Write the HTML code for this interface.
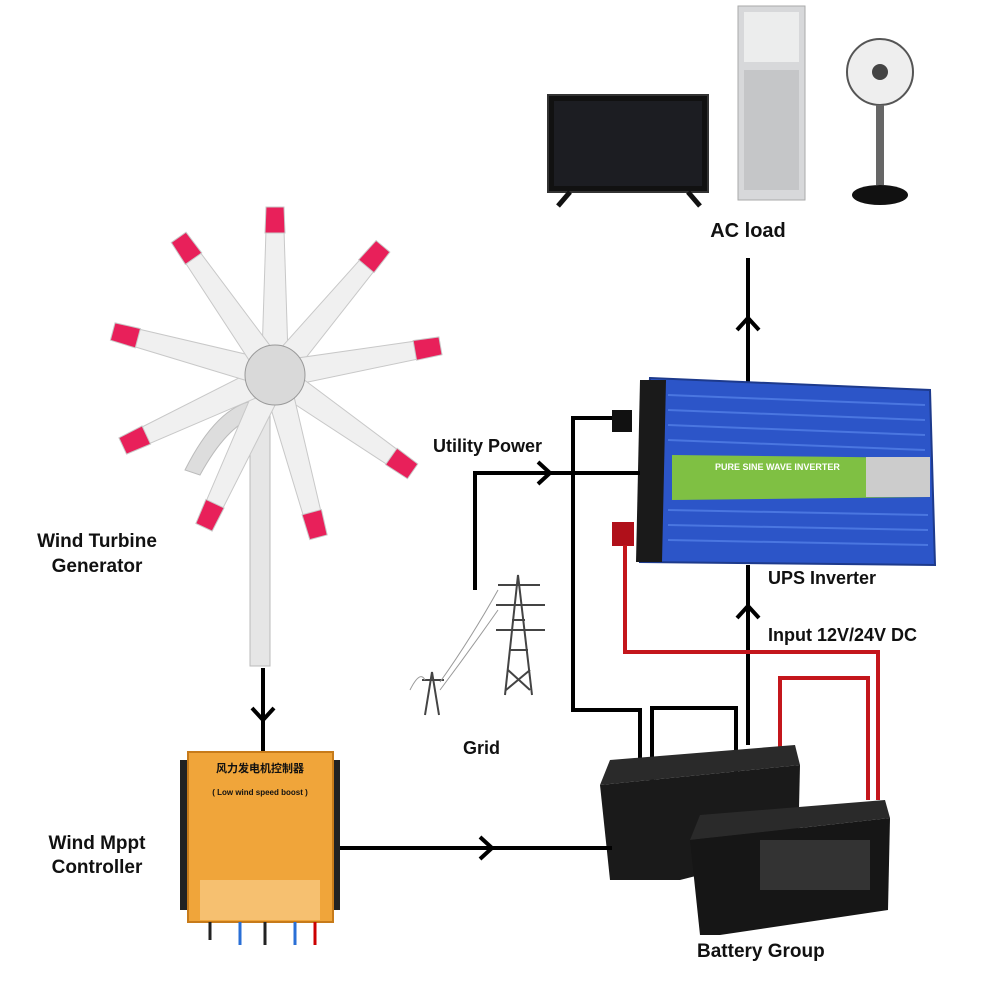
<!DOCTYPE html>
<html><head><meta charset="utf-8"><style>
html,body{margin:0;padding:0;background:#fff;}
svg{display:block}
text{font-family:"Liberation Sans","Noto Sans CJK SC",sans-serif;font-weight:bold;fill:#111}
</style></head><body>
<svg width="1000" height="1000" viewBox="0 0 1000 1000" xmlns="http://www.w3.org/2000/svg">
<!-- TV -->
<rect x="548" y="95" width="160" height="97" fill="#111" stroke="#333" stroke-width="2"/>
<rect x="554" y="101" width="148" height="85" fill="#1c1d22"/>
<path d="M570 192 L558 206 M688 192 L700 206" stroke="#111" stroke-width="5"/>
<!-- AC tower -->
<rect x="738" y="6" width="67" height="194" fill="#d7d8da" stroke="#aaa"/>
<rect x="744" y="12" width="55" height="50" fill="#eceded"/>
<rect x="744" y="70" width="55" height="120" fill="#c5c6c8"/>
<!-- Fan -->
<circle cx="880" cy="72" r="33" fill="#eee" stroke="#555" stroke-width="2"/>
<circle cx="880" cy="72" r="8" fill="#444"/>
<rect x="876" y="105" width="8" height="80" fill="#666"/>
<ellipse cx="880" cy="195" rx="28" ry="10" fill="#111"/>
<text x="748" y="237" font-size="20" text-anchor="middle">AC load</text>
<!-- AC load line -->
<line x1="748" y1="258" x2="748" y2="382" stroke="#000" stroke-width="4"/>
<path d="M737 330 L748 318 L759 330" fill="none" stroke="#000" stroke-width="4"/>
<!-- inverter -->
<polygon points="650,378 930,390 935,565 640,562" fill="#2c55c8" stroke="#1d3a8c" stroke-width="2"/>
<polygon points="640,380 666,380 662,562 636,562" fill="#1a1a1a"/>
<g stroke="#4a76e0" stroke-width="2">
<line x1="668" y1="395" x2="925" y2="405"/><line x1="668" y1="410" x2="925" y2="420"/><line x1="668" y1="425" x2="925" y2="435"/><line x1="668" y1="440" x2="925" y2="450"/>
<line x1="668" y1="510" x2="928" y2="515"/><line x1="668" y1="525" x2="928" y2="530"/><line x1="668" y1="540" x2="928" y2="545"/>
</g>
<polygon points="672,455 930,458 930,497 672,500" fill="#7fc043"/>
<rect x="866" y="457" width="64" height="40" fill="#ccc"/>
<text x="715" y="470" font-size="9" style="fill:#fff">PURE SINE WAVE INVERTER</text>
<rect x="612" y="410" width="20" height="22" fill="#111"/>
<rect x="612" y="522" width="22" height="24" fill="#b0101a"/>
<!-- Utility power -->
<text x="433" y="452" font-size="18">Utility Power</text>
<polyline points="475,590 475,473 640,473" fill="none" stroke="#000" stroke-width="4"/>
<path d="M538 462 L550 473 L538 484" fill="none" stroke="#000" stroke-width="4"/>
<!-- grid towers -->
<g stroke="#444" stroke-width="2" fill="none">
<path d="M505 695 L518 575 L532 695 M510 650 L528 650 M512 620 L525 620 M498 585 L540 585 M496 605 L545 605 M496 630 L545 630 M508 670 L530 690 M530 670 L506 690"/>
<path d="M425 715 L432 672 L439 715 M422 680 L444 680"/>
<path d="M440 682 Q470 640 498 590 M440 690 Q470 650 498 610 M410 690 Q420 670 425 680" stroke="#999" stroke-width="1"/>
</g>
<text x="463" y="754" font-size="18">Grid</text>
<!-- UPS labels -->
<text x="768" y="584" font-size="18">UPS Inverter</text>
<text x="768" y="641" font-size="18">Input 12V/24V DC</text>
<line x1="748" y1="565" x2="748" y2="745" stroke="#000" stroke-width="4"/>
<path d="M737 618 L748 606 L759 618" fill="none" stroke="#000" stroke-width="4"/>
<!-- black wire -->
<polyline points="612,418 573,418 573,710 640,710 640,780" fill="none" stroke="#000" stroke-width="4"/>
<polyline points="652,780 652,708 736,708 736,820" fill="none" stroke="#000" stroke-width="4"/>
<!-- red wires -->
<polyline points="625,545 625,652 878,652 878,800" fill="none" stroke="#c4161c" stroke-width="4"/>
<polyline points="780,760 780,678 868,678 868,800" fill="none" stroke="#c4161c" stroke-width="4"/>
<!-- batteries -->
<polygon points="610,760 795,745 800,765 600,785" fill="#2a2a2a"/>
<polygon points="600,785 800,765 798,850 680,880 610,880" fill="#1a1a1a"/>
<polygon points="700,815 885,800 890,818 690,840" fill="#2a2a2a"/>
<polygon points="690,840 890,818 888,910 720,935 700,935" fill="#161616"/>
<rect x="760" y="840" width="110" height="50" fill="#333"/>
<text x="697" y="957" font-size="19">Battery Group</text>
<!-- wind turbine -->
<rect x="250" y="400" width="20" height="266" fill="#e6e6e6" stroke="#bbb"/>
<path d="M262 400 Q220 400 185 470 L200 475 Q230 420 262 415 Z" fill="#ddd" stroke="#bbb"/>
<g transform="translate(275,375)">
<g stroke="#c8c8c8" stroke-width="1">
<g id="b"><polygon points="-13,-20 13,-20 9,-145 -9,-145" fill="#f0f0f0"/><polygon points="-10,-142 10,-142 9,-168 -9,-168" fill="#e8205a"/></g>
<use href="#b" transform="rotate(40)"/><use href="#b" transform="rotate(80)"/><use href="#b" transform="rotate(125)"/><use href="#b" transform="rotate(165)"/><use href="#b" transform="rotate(205)"/><use href="#b" transform="rotate(245)"/><use href="#b" transform="rotate(285)"/><use href="#b" transform="rotate(325)"/>
</g>
<circle r="30" fill="#d9d9d9" stroke="#999"/>
</g>
<text x="97" y="547" font-size="19" text-anchor="middle">Wind Turbine</text>
<text x="97" y="572" font-size="19" text-anchor="middle">Generator</text>
<line x1="263" y1="668" x2="263" y2="755" stroke="#000" stroke-width="4"/>
<path d="M252 708 L263 720 L274 708" fill="none" stroke="#000" stroke-width="4"/>
<!-- controller -->
<rect x="180" y="760" width="10" height="150" fill="#222"/>
<rect x="330" y="760" width="10" height="150" fill="#222"/>
<rect x="188" y="752" width="145" height="170" fill="#f0a53a" stroke="#c77b1a" stroke-width="2"/>
<text x="260" y="772" font-size="11" text-anchor="middle">风力发电机控制器</text>
<text x="260" y="795" font-size="8" text-anchor="middle">( Low wind speed boost )</text>
<rect x="200" y="880" width="120" height="40" fill="#f6c070"/>
<g stroke-width="3"><line x1="210" y1="922" x2="210" y2="940" stroke="#222"/><line x1="240" y1="922" x2="240" y2="945" stroke="#2a6fd6"/><line x1="265" y1="922" x2="265" y2="945" stroke="#222"/><line x1="295" y1="922" x2="295" y2="945" stroke="#2a6fd6"/><line x1="315" y1="922" x2="315" y2="945" stroke="#c00"/></g>
<text x="97" y="849" font-size="19" text-anchor="middle">Wind Mppt</text>
<text x="97" y="873" font-size="19" text-anchor="middle">Controller</text>
<line x1="340" y1="848" x2="612" y2="848" stroke="#000" stroke-width="4"/>
<path d="M480 837 L492 848 L480 859" fill="none" stroke="#000" stroke-width="4"/>
</svg>
</body></html>
